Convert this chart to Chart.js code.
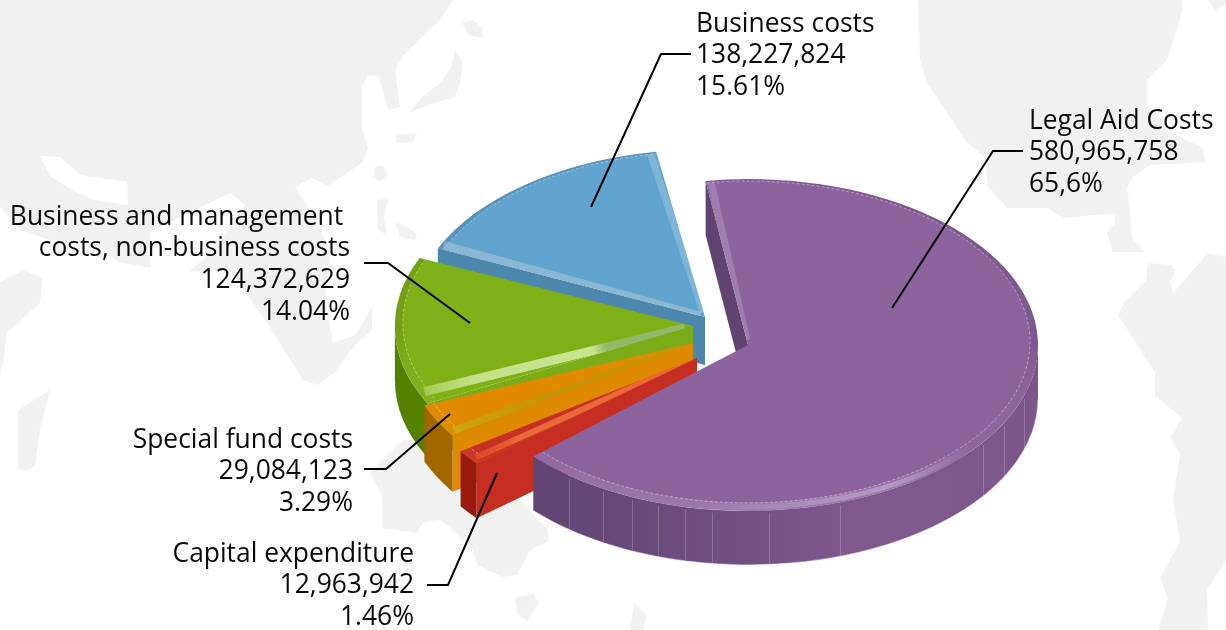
<!DOCTYPE html>
<html>
<head>
<meta charset="utf-8">
<style>html,body{margin:0;padding:0;background:#fff}canvas{display:block}</style>
<script src="https://cdn.jsdelivr.net/npm/chart.js@4"></script>
</head>
<body>
<canvas id="c" width="1226" height="630"></canvas>
<script>
// ---- data ----
const categories = ['Legal Aid Costs','Capital expenditure','Special fund costs','Business and management costs, non-business costs','Business costs'];
const values = [580965758,12963942,29084123,124372629,138227824];
const shareLabels = ['65,6%','1.46%','3.29%','14.04%','15.61%'];
const topColors = ['#8b649e','#c93024','#e08a00','#80b018','#61a4cf'];

// ---- look of the exploded 3D pie ----
const TILT = 0.572, FONT = '26.4px "Open Sans"', LINE = 31.7;
const frames = [
  {x:748,y:345,s:1,    tw:0,    depth:54,cut:'#5f4470',wall:'#7d598c'},
  {x:697,y:358,s:0.99, tw:2.4,  depth:55,cut:'#c72e22',wall:'#9a1b0e'},
  {x:693,y:343,s:1.0,  tw:3.0,  depth:56,cut:'#dd8a00',wall:'#a46600'},
  {x:693,y:326,s:1.028,tw:-1.9, depth:54,cut:'#7cab18',wall:'#548200'},
  {x:705,y:317,s:1.01, tw:-1.2, depth:48,cut:'#4c87ad',wall:'#4c87ad'}
];
const paintOrder = [4,3,2,1,0];
const bands = [
  [{a:'s',da:1.0,from:.03,to:.99,w:7,stops:[[0,'rgba(190,165,200,.4)'],[1,'rgba(190,165,200,.4)']]}],
  [{a:'s',da:1.7,from:.02,to:.98,w:6,stops:[[0,'rgba(240,110,60,.9)'],[.8,'rgba(240,110,60,.9)'],[1,'rgba(230,80,40,.7)']]}],
  [{a:'s',da:1.4,from:.03,to:.98,w:7,stops:[[0,'rgba(190,150,10,.65)'],[.6,'rgba(190,150,10,.7)'],[1,'rgba(205,170,20,.9)']]}],
  [{a:'s',da:3.9,from:.03,to:.98,w:9,stops:[[0,'rgba(150,190,130,.75)'],[.3,'rgba(150,190,130,.75)'],[.35,'rgba(205,230,150,.95)'],[.8,'rgba(205,230,150,.9)'],[1,'rgba(170,205,90,.9)']]}],
  [{a:'s',da:1.5,from:.02,to:.99,w:8,stops:[[0,'rgba(170,200,220,.55)'],[1,'rgba(170,200,220,.55)']]},
   {a:'e',da:-1.2,from:.03,to:.99,w:7,stops:[[0,'rgba(175,215,235,.35)'],[1,'rgba(175,215,235,.35)']]}]
];
const seamXs = [569,603,632,658,685,712,769,840,983,1004,1024];
const labelLayout = [
  {x:1029,y:121,align:'left', lines:['Legal Aid Costs'],leader:[[1023,151],[993,151],[892,308]]},
  {x:414, y:554,align:'right',lines:['Capital expenditure'],leader:[[427,585],[448,585],[497,473]]},
  {x:353, y:440,align:'right',lines:['Special fund costs'],leader:[[364,469],[386,469],[450,414]]},
  {x:350, y:217,align:'right',lines:['Business and management ','costs, non-business costs'],leader:[[364,263],[388,263],[470,323]]},
  {x:696, y:24, align:'left', lines:['Business costs'],leader:[[691,54],[661,54],[591,207]]}
];
const mapShapes = [
  [0,0,453,0,440,20,404,55,395,70,400,107,388,110,379,77,368,75,362,87,362,127,368,148,362,163,328,186,312,178,295,187,312,213,330,250,325,300,333,343,355,335,372,307,372,330,355,345,335,372,318,385,303,380,267,323,230,270,188,272,215,250,245,205,230,193,150,232,150,268,118,262,95,240,50,240,20,230,0,207],
  [40,156,60,157,80,175,127,182,128,205,95,200,72,190,50,176],
  [0,22,12,30,20,48,20,55,0,56],
  [0,282,23,270,43,278,40,303,7,333,3,363,0,373],
  [18,470,18,410,50,390,40,430,35,465,30,470],
  [403,440,430,440,520,500,548,530,548,542,530,550,517,575,503,577,477,565,473,550,453,530,440,520,423,523,417,533,383,528,382,495,370,473],
  [515,598,533,593,539,603,527,621,517,613],[634,603,647,615,643,630,630,630],
  [462,23,473,20,483,28,482,38,469,35],
  [455,50,463,63,460,83,455,97,429,105,408,113,422,97,440,83,451,67],
  [395,135,417,133,413,142,397,143],[375,167,382,165,388,175,379,182,374,177],
  [377,200,389,198,384,217,387,235,378,230],[395,222,408,227,417,235,415,240,400,237],
  [918,0,920,60,927,83,965,140,985,158,988,187,1007,208,1047,208,1063,218,1093,215,1115,214,1115,223,1107,233,1113,252,1145,252,1132,238,1130,209,1127,188,1133,177,1150,165,1205,162,1203,148,1177,135,1147,103,1147,80,1167,60,1182,12,1182,0],
  [1208,0,1215,10,1226,4,1226,0],
  [1148,263,1172,265,1175,273,1170,281,1173,293,1208,253,1226,257,1226,560,1207,590,1208,630,1158,630,1168,598,1160,578,1180,542,1173,498,1180,454,1170,438,1182,418,1155,396,1155,373,1118,315,1125,301,1146,281]
];
const MAP_GAP = 1; // index of the shape that is a gap in the first one

const rad = d => d*Math.PI/180;
function pt(f,arc,a,r){ const t=a+rad(f.tw); r*=f.s; return [f.x+r*Math.cos(t), f.y+TILT*r*Math.sin(t)]; }

function drawWall(ctx,f,arc,i){
  const a0=arc.startAngle+rad(f.tw), a1=arc.endAngle+rad(f.tw), r=arc.outerRadius*f.s;
  const segs=[[a0,a1],[a0+2*Math.PI,a1+2*Math.PI],[a0-2*Math.PI,a1-2*Math.PI]];
  for(const [s,e] of segs){
    const from=Math.max(s,0), to=Math.min(e,Math.PI);
    if(to<=from) continue;
    ctx.beginPath();
    ctx.ellipse(f.x,f.y,r,TILT*r,0,from,to);
    ctx.ellipse(f.x,f.y+f.depth,r,TILT*r,0,to,from,true);
    ctx.closePath();
    if(i===0){
      const g=ctx.createLinearGradient(520,0,1038,0);
      g.addColorStop(0,'#5f4470');g.addColorStop(.4,'#6f4f80');g.addColorStop(.65,'#7f5a8c');g.addColorStop(1,'#7b5789');
      ctx.fillStyle=g;
    } else ctx.fillStyle=f.wall;
    ctx.fill();
    if(i===0){
      ctx.beginPath();
      ctx.ellipse(f.x,f.y+f.depth,r,TILT*r,0,from,to);
      ctx.strokeStyle='rgba(255,255,255,.45)';ctx.lineWidth=1;ctx.stroke();
      ctx.strokeStyle='rgba(255,255,255,.2)';
      for(const sx of seamXs){
        const c=(sx-f.x)/r, ang=Math.acos(c);
        if(ang<from||ang>to) continue;
        const y=f.y+TILT*r*Math.sin(ang);
        ctx.beginPath();ctx.moveTo(sx+.5,y+3);ctx.lineTo(sx+.5,y+f.depth-1);ctx.stroke();
      }
    }
  }
}
function drawCut(ctx,f,arc){
  const p=pt(f,arc,arc.startAngle,arc.outerRadius);
  ctx.beginPath();ctx.moveTo(p[0],p[1]);ctx.lineTo(f.x,f.y);ctx.lineTo(f.x,f.y+f.depth);ctx.lineTo(p[0],p[1]+f.depth);ctx.closePath();
  ctx.fillStyle=f.cut;ctx.fill();
}
function drawTop(ctx,f,arc){
  ctx.save();
  ctx.translate(f.x,f.y);ctx.scale(f.s,f.s*TILT);ctx.rotate(rad(f.tw));ctx.translate(-arc.x,-arc.y);
  arc.draw(ctx);
  ctx.restore();
}
function drawBevel(ctx,f,arc,i){
  const a0=arc.startAngle+rad(f.tw), a1=arc.endAngle+rad(f.tw), r=arc.outerRadius*f.s, ry=TILT*r;
  ctx.save();
  ctx.beginPath();ctx.moveTo(f.x,f.y);ctx.ellipse(f.x,f.y,r,ry,0,a0,a1);ctx.closePath();ctx.clip();
  // rounded rim: the ring between the outer edge and an inner ellipse set slightly back
  const g=ctx.createLinearGradient(0,f.y-ry,0,f.y+ry);
  g.addColorStop(0,'rgba(0,0,0,.10)');g.addColorStop(.5,'rgba(0,0,0,.10)');g.addColorStop(.8,'rgba(255,255,255,.02)');g.addColorStop(1,'rgba(255,255,255,.14)');
  ctx.beginPath();
  ctx.ellipse(f.x,f.y,r,ry,0,0,2*Math.PI);
  ctx.ellipse(f.x,f.y-3,r-8,ry-5,0,0,2*Math.PI);
  ctx.fillStyle=g;ctx.fill('evenodd');
  // pale stitched line inside the rim
  ctx.beginPath();ctx.ellipse(f.x,f.y-3,r-8,ry-5,0,a0,a1);
  ctx.strokeStyle='rgba(255,255,255,.42)';ctx.lineWidth=1;ctx.setLineDash([3,2]);ctx.stroke();ctx.setLineDash([]);
  if(i===0){
    const h=ctx.createLinearGradient(700,0,970,0);
    h.addColorStop(0,'rgba(255,255,255,0)');h.addColorStop(.45,'rgba(255,255,255,.2)');h.addColorStop(.7,'rgba(255,255,255,.28)');h.addColorStop(1,'rgba(255,255,255,0)');
    ctx.beginPath();ctx.ellipse(f.x,f.y-1,r-3,ry-3,0,rad(40),rad(100));
    ctx.strokeStyle=h;ctx.lineWidth=5;ctx.stroke();
  }
  for(const b of bands[i]){
    const base=(b.a==='s'?arc.startAngle:arc.endAngle)+rad(b.da);
    const R=arc.outerRadius;
    const p=pt(f,arc,base,R*b.to), q=pt(f,arc,base,R*b.from);
    const lg=ctx.createLinearGradient(p[0],p[1],q[0],q[1]);
    b.stops.forEach(s=>lg.addColorStop(1-s[0],s[1]));
    ctx.beginPath();ctx.moveTo(p[0],p[1]);ctx.lineTo(q[0],q[1]);
    ctx.strokeStyle=lg;ctx.lineWidth=b.w;ctx.stroke();
  }
  ctx.restore();
}

const pie3d = {
  id:'pie3d',
  beforeDraw(chart){
    const ctx=chart.ctx;
    ctx.save();
    mapShapes.forEach((s,n)=>{
      ctx.beginPath();ctx.moveTo(s[0],s[1]);
      for(let i=2;i<s.length;i+=2) ctx.lineTo(s[i],s[i+1]);
      ctx.closePath();
      ctx.fillStyle = n===MAP_GAP ? '#ffffff' : '#f1f1f1';
      ctx.fill();
    });
    ctx.restore();
  },
  beforeDatasetDraw(chart,args){
    const ctx=chart.ctx, arcs=args.meta.data;
    for(const i of paintOrder){
      const f=frames[i], arc=arcs[i];
      drawCut(ctx,f,arc);
      drawWall(ctx,f,arc,i);
      drawTop(ctx,f,arc);
      drawBevel(ctx,f,arc,i);
    }
    return false;
  },
  afterDraw(chart){
    const ctx=chart.ctx;
    ctx.save();
    labelLayout.forEach((l,i)=>{
      ctx.beginPath();
      l.leader.forEach((p,k)=>k?ctx.lineTo(p[0],p[1]):ctx.moveTo(p[0],p[1]));
      ctx.strokeStyle='#000';ctx.lineWidth=2;ctx.lineJoin='miter';ctx.stroke();
      const text=[...l.lines, values[i].toLocaleString('en-US'), shareLabels[i]];
      ctx.font=FONT;ctx.fillStyle='#0a0a0a';ctx.textAlign=l.align;ctx.textBaseline='middle';
      text.forEach((t,k)=>ctx.fillText(t,l.x,l.y+k*LINE));
    });
    ctx.restore();
  }
};

new Chart(document.getElementById('c'),{
  type:'pie',
  data:{labels:categories,datasets:[{data:values,backgroundColor:topColors,borderWidth:0,clip:false}]},
  options:{
    responsive:false,animation:false,rotation:-8.4,radius:290,
    plugins:{legend:{display:false},tooltip:{enabled:false}},
    events:[]
  },
  plugins:[pie3d]
});
</script>
</body>
</html>
